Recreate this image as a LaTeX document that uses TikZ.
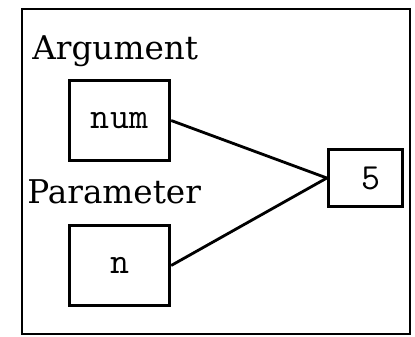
\documentclass[tikz,border=0pt]{standalone}
\usepackage{fontspec}
\setmainfont{DejaVu Serif}
\usetikzlibrary{positioning}

\begin{document}
\begin{tikzpicture}[
  x=0.02cm, y=-0.02cm,
  cell/.style={draw, line width=1.9pt, inner sep=0pt,
    minimum width=2cm, minimum height=1.6cm,
    font=\ttfamily\fontsize{21}{21}\selectfont},
  lbl/.style={anchor=base west, inner sep=0pt, font=\fontsize{18.6}{18.6}\selectfont},
  link/.style={line width=1.6pt},
]
  \useasboundingbox (0,0) rectangle (415,336);
  \draw[line width=1.6pt] (22,9) rectangle (410,334);
  \node[lbl] (arglbl) at (32,59) {Argument};
  \node[cell] (num) at (119.5,120.5) {num};
  \node[lbl] (parlbl) at (27,203) {Parameter};
  \node[cell] (n) at (119.5,265.5) {n};
  \node[cell, minimum width=1.48cm, minimum height=1.14cm] (five) at (365.5,178) {\hspace*{0.2cm}5};
  \draw[link] (num.east) -- (five.west);
  \draw[link] (n.east) -- (five.west);
\end{tikzpicture}
\end{document}
